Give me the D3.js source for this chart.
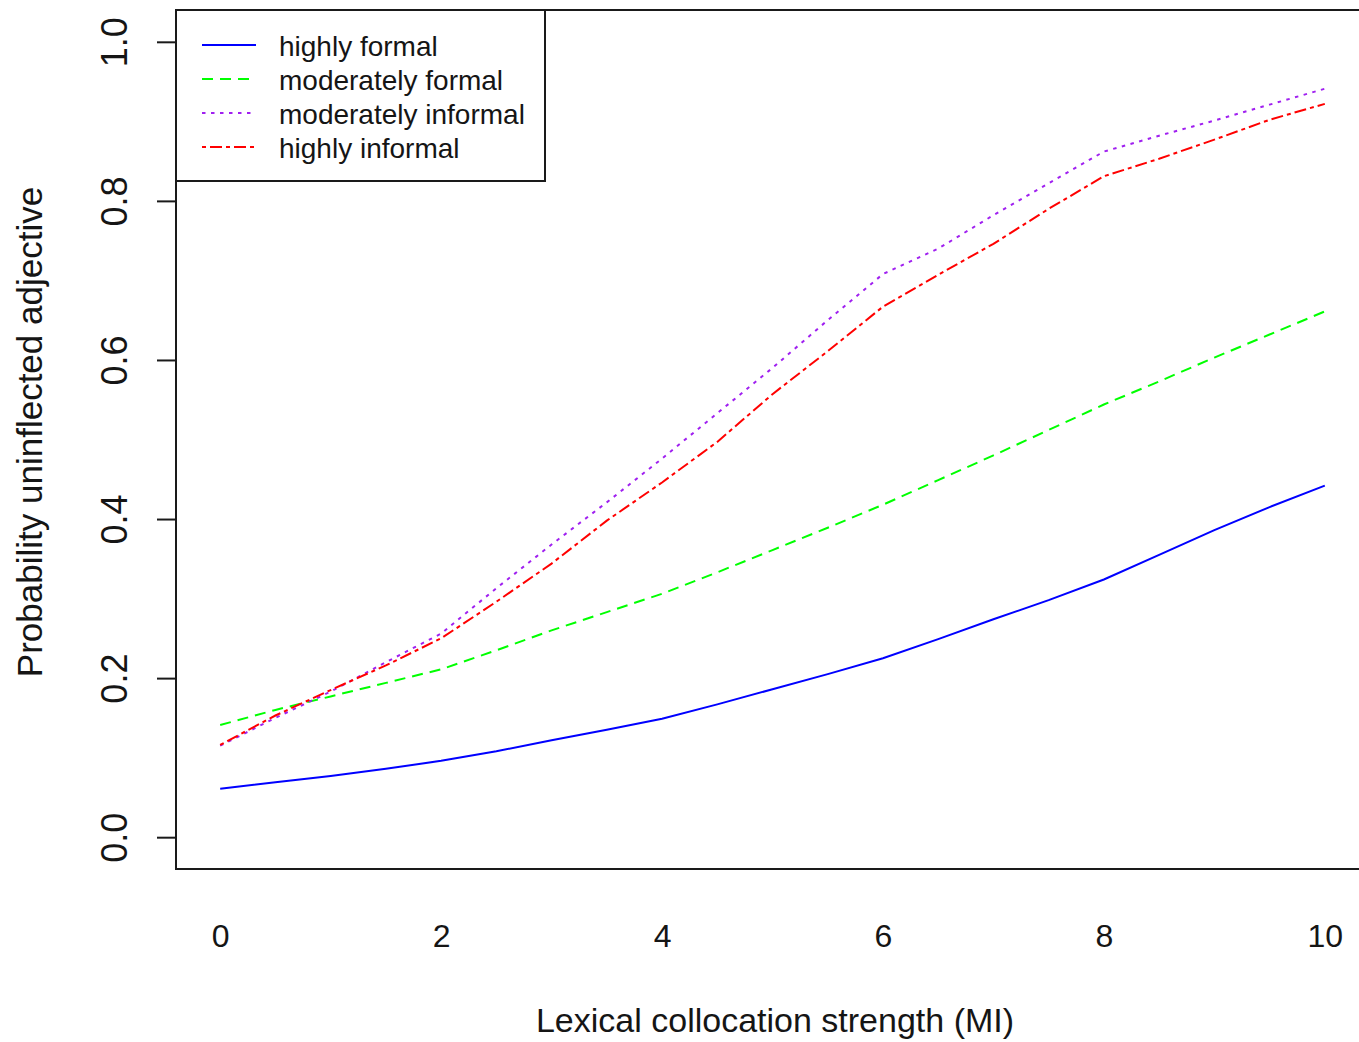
<!DOCTYPE html>
<html>
<head>
<meta charset="utf-8">
<script src="https://cdn.jsdelivr.net/npm/d3@7"></script>
<style>
  html, body { margin: 0; padding: 0; background: #fff; }
  svg { display: block; }
  text { font-family: "Liberation Sans", Arial, sans-serif; fill: #151515; }
</style>
</head>
<body>
<svg id="chart" width="1359" height="1042"></svg>
<script>
// Lexical collocation strength (MI)
const mi = [0, 0.5, 1, 1.5, 2, 2.5, 3, 3.5, 4, 4.5, 5, 5.5, 6, 6.5, 7, 7.5, 8, 8.5, 9, 9.5, 10];

// Predicted probability of an uninflected adjective, per register
const highlyFormal = [0.061, 0.069, 0.077, 0.086, 0.096, 0.108, 0.122, 0.135, 0.149, 0.167, 0.186,
  0.205, 0.225, 0.249, 0.274, 0.298, 0.324, 0.355, 0.386, 0.415, 0.442];
const moderatelyFormal = [0.141, 0.160, 0.177, 0.194, 0.211, 0.235, 0.260, 0.283, 0.306, 0.333, 0.361,
  0.389, 0.418, 0.449, 0.480, 0.512, 0.544, 0.573, 0.603, 0.632, 0.661];
const moderatelyInformal = [0.115, 0.150, 0.183, 0.220, 0.256, 0.313, 0.368, 0.421, 0.476, 0.533, 0.590,
  0.650, 0.708, 0.740, 0.782, 0.822, 0.862, 0.882, 0.901, 0.921, 0.941];
const highlyInformal = [0.116, 0.153, 0.185, 0.216, 0.250, 0.296, 0.344, 0.398, 0.446, 0.497, 0.557,
  0.611, 0.667, 0.707, 0.746, 0.790, 0.831, 0.853, 0.877, 0.902, 0.922];

const seriesNames = ["highly formal", "moderately formal", "moderately informal", "highly informal"];
const seriesValues = [highlyFormal, moderatelyFormal, moderatelyInformal, highlyInformal];

const xTicks = [0, 2, 4, 6, 8, 10];
const yTicks = [0.0, 0.2, 0.4, 0.6, 0.8, 1.0];

const xTitle = "Lexical collocation strength (MI)";
const yTitle = "Probability uninflected adjective";

// line styles: colour and dash pattern per series
const colors = ["#0000ff", "#00ff00", "#a020f0", "#ff0000"];
const dashes = [null, "11,7", "3.5,5.5", "4,4,12,4"];

const svg = d3.select("#chart");

// plot region (axis ranges padded by 4% on each side)
const box = { left: 176, top: 10, right: 1369, bottom: 869 };
const x = d3.scaleLinear().domain([-0.4, 10.4]).range([box.left, box.right]);
const y = d3.scaleLinear().domain([-0.04, 1.04]).range([box.bottom, box.top]);

// series lines
const line = d3.line()
  .x(d => x(d[0]))
  .y(d => y(d[1]))
  .curve(d3.curveLinear);

const plot = svg.append("g");
seriesValues.forEach((vals, i) => {
  plot.append("path")
    .datum(mi.map((m, k) => [m, vals[k]]))
    .attr("d", line)
    .attr("fill", "none")
    .attr("stroke", colors[i])
    .attr("stroke-width", 2)
    .attr("stroke-dasharray", dashes[i]);
});

// frame
svg.append("rect")
  .attr("x", box.left).attr("y", box.top)
  .attr("width", box.right - box.left).attr("height", box.bottom - box.top)
  .attr("fill", "none").attr("stroke", "#1a1a1a").attr("stroke-width", 2);

// y axis: ticks outside the frame, labels rotated
const yAxis = d3.axisLeft(y).tickValues(yTicks).tickFormat(d3.format(".1f"))
  .tickSize(19).tickPadding(0);
const gy = svg.append("g").attr("transform", `translate(${box.left},0)`).call(yAxis);
gy.select(".domain").remove();
gy.selectAll(".tick line").attr("stroke", "#1a1a1a").attr("stroke-width", 2);
gy.selectAll(".tick text")
  .attr("x", null).attr("dy", null)
  .attr("transform", "translate(-49,0) rotate(-90)")
  .attr("text-anchor", "middle")
  .style("font-size", "36px")
  .style("font-family", "'Liberation Sans', Arial, sans-serif")
  .attr("fill", "#151515");

// x axis: labels only
const xAxis = d3.axisBottom(x).tickValues(xTicks).tickFormat(d3.format("d"))
  .tickSize(0).tickPadding(0);
const gx = svg.append("g").attr("transform", `translate(0,${box.bottom})`).call(xAxis);
gx.select(".domain").remove();
gx.selectAll(".tick text")
  .attr("y", 78).attr("dy", null)
  .style("font-size", "32px")
  .style("font-family", "'Liberation Sans', Arial, sans-serif")
  .attr("fill", "#151515");

// axis titles
svg.append("text")
  .attr("x", 775).attr("y", 1032)
  .attr("text-anchor", "middle")
  .style("font-size", "34px")
  .text(xTitle);

svg.append("text")
  .attr("transform", "translate(42,432) rotate(-90)")
  .attr("text-anchor", "middle")
  .style("font-size", "35px")
  .text(yTitle);

// legend
const legend = svg.append("g");
legend.append("rect")
  .attr("x", 176).attr("y", 10).attr("width", 369).attr("height", 171)
  .attr("fill", "#fff").attr("stroke", "#1a1a1a").attr("stroke-width", 2);
const legendY = d3.scalePoint().domain(seriesNames).range([45, 147]);
seriesNames.forEach((name, i) => {
  const ly = legendY(name);
  legend.append("line")
    .attr("x1", 202).attr("x2", 256).attr("y1", ly).attr("y2", ly)
    .attr("stroke", colors[i]).attr("stroke-width", 2)
    .attr("stroke-dasharray", dashes[i]);
  legend.append("text")
    .attr("x", 279).attr("y", ly + 11)
    .style("font-size", "28px")
    .text(name);
});
</script>
</body>
</html>
